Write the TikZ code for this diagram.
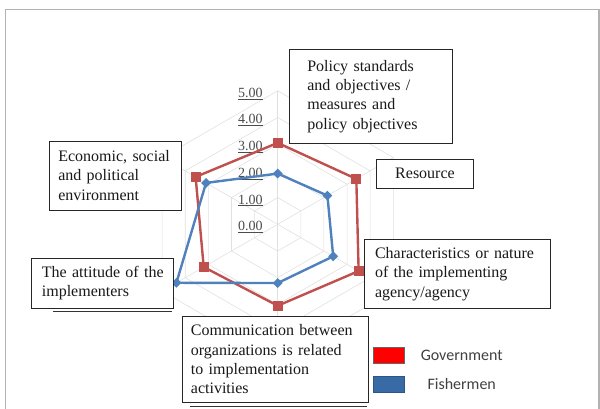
\documentclass[tikz,border=0pt]{standalone}
\usepackage{fontspec}
\setmainfont{Liberation Serif}
\newfontfamily\keyfont{Carlito}
\usepackage{tikz}
\usetikzlibrary{shapes.geometric}
\definecolor{govred}{RGB}{192,80,77}
\definecolor{fishblue}{RGB}{79,129,189}
\definecolor{keyred}{RGB}{255,0,0}
\definecolor{keyblue}{RGB}{56,106,166}

\begin{document}
\begin{tikzpicture}[x=1pt,y=-1pt,node distance=73pt,
	factor/.style={shape=rectangle,draw=black!85,line width=1pt,fill=white,align=left,text=black!90,font=\fontsize{16}{19.4}\selectfont},
	scalelabel/.style={anchor=east,inner sep=1pt,text=black!70,font=\fontsize{14}{14}\selectfont},
	gridline/.style={black!12,line width=0.6pt},
	gov/.style={govred,line width=2.4pt,line join=round},
	fish/.style={fishblue,line width=2.4pt,line join=round},
	govmark/.style={shape=rectangle,fill=govred,minimum size=10pt,inner sep=0pt},
	fishmark/.style={shape=diamond,fill=fishblue,minimum size=10pt,inner sep=0pt},
	keybox/.style={shape=rectangle,minimum width=30.7pt,minimum height=16pt,inner sep=0pt},
	keytext/.style={text=black!75,font=\keyfont\fontsize{16}{16}\selectfont}]
	\useasboundingbox (0,0) rectangle (600,408);
	\draw[black!30,line width=1.5pt] (5.7,420) |- (599,9.5) -- (599,420);

	\begin{scope}[shift={(277.7,224.3)},x=26.7pt,y=26.7pt]
		\foreach \r in {1,...,5}
			\draw[gridline] (90:\r) -- (30:\r) -- (-30:\r) -- (-90:\r) -- (-150:\r) -- (150:\r) -- cycle;
		\foreach \a in {90,30,...,-210}
			\draw[gridline] (0,0) -- (\a:5);
		\foreach \r in {0,...,5}
			\node (level\r) [scalelabel] at (-0.52,\r-0.11) {\underline{\r.00}};

		\foreach \v [count=\i] in {3.05,3.4,3.5,3.05,3.2,3.55}
			\coordinate (g\i) at ({150-60*\i}:\v);
		\foreach \v [count=\i] in {1.9,2.15,2.4,2.2,4.38,3.1}
			\coordinate (f\i) at ({150-60*\i}:\v);

		\draw[gov] (g1) \foreach \i in {2,...,6} {-- (g\i)} -- cycle;
		\foreach \i in {1,...,6}
			\node (gm\i) [govmark] at (g\i) {};
		\draw[fish] (f1) \foreach \i in {2,...,6} {-- (f\i)} -- cycle;
		\foreach \i in {1,...,6}
			\node (fm\i) [fishmark] at (f\i) {};
	\end{scope}

	\node (standards) [factor,text width=127pt,inner xsep=18.3pt,minimum height=94pt] at (370.8,96.3) {Policy standards\\and objectives /\\measures and\\policy objectives};
	\node (resource) [factor,align=center,minimum width=97.6pt,minimum height=29.3pt] at (425,173.7) {Resource};
	\node (agency) [factor,text width=165pt,inner xsep=10.3pt,minimum height=69pt] at (457.5,273.8) {\mbox{Characteristics or nature}\\of the implementing\\agency/agency};
	\node (environment) [factor,text width=115pt,inner xsep=8.5pt,minimum height=69pt] at (115.8,175.5) {\mbox{Economic, social}\\and political\\environment};
	\node (attitude) [factor,text width=121pt,inner xsep=10.1pt,minimum height=50pt] at (102.4,283.3) {\mbox{The attitude of the}\\implementers};
	\node (communication) [factor,text width=169pt,inner xsep=8.3pt,minimum height=86.5pt] at (275.4,359.3) {\mbox{Communication between}\\\mbox{organizations is related}\\to implementation\\activities};
	\draw[black!80,line width=1pt] ([xshift=22pt,yshift=-2.5pt]attitude.south west) -- ([xshift=-2pt,yshift=-2.5pt]attitude.south east);
	\draw[black!80,line width=1pt] ([xshift=7.5pt,yshift=-3.5pt]communication.south west) -- ([xshift=-2pt,yshift=-3.5pt]communication.south east);

	\node (govkey) [keybox,fill=keyred,draw=black!60,line width=1pt] at (388.7,355.3) {};
	\node (govlabel) [keytext] [right of = govkey] {Government};
	\node (fishkey) [keybox,fill=keyblue,draw=keyblue!80!black,line width=0.6pt] at (388.7,384.2) {};
	\node (fishlabel) [keytext] [right of = fishkey] {Fishermen};
\end{tikzpicture}
\end{document}
